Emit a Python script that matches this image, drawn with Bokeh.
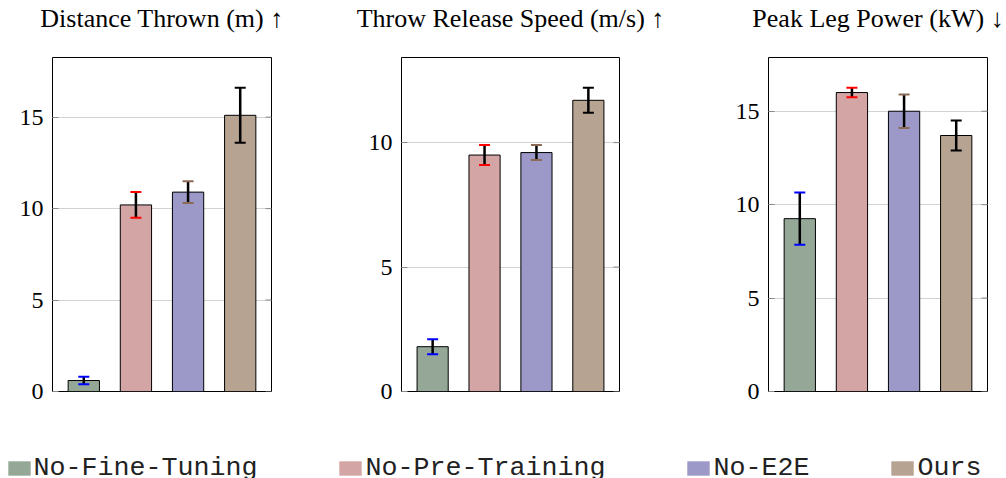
import math
from bokeh.plotting import figure
from bokeh.models import (Range1d, FixedTicker, Whisker, TeeHead,
                          ColumnDataSource, Legend, LegendItem)
from bokeh.layouts import row, column
from bokeh.embed import file_html
from bokeh.resources import INLINE

# ---------------- data ----------------
methods = ["No-Fine-Tuning", "No-Pre-Training", "No-E2E", "Ours"]
bar_colors = ["#95a897", "#d4a5a5", "#9c98c7", "#b6a391"]
cap_colors = ["#0000ff", "#ff0000", "#8b6a55", "#000000"]

titles = ["Distance Thrown (m) \u2191", "Throw Release Speed (m/s) \u2191", "Peak Leg Power (kW) \u2193"]

distance_mean = [0.6, 10.2, 10.9, 15.1]
distance_err = [0.2, 0.7, 0.6, 1.5]
speed_mean = [1.8, 9.5, 9.6, 11.7]
speed_err = [0.3, 0.4, 0.3, 0.5]
power_mean = [9.25, 16.0, 15.0, 13.7]
power_err = [1.4, 0.25, 0.9, 0.8]

yticks_distance = [0, 5, 10, 15]
yticks_speed = [0, 5, 10]
yticks_power = [0, 5, 10, 15]

SERIF = "Liberation Serif"
TITLE_FONT = "Liberation Serif, DejaVu Sans"
FRAME_H = 334          # plot-area height in px
TOP = 57               # height of the title strip above the plot area
BOTTOM = 16
TICK_COLOR = "#8a8a8a"
X0, X1 = -0.6, len(methods) - 0.4


def make_title(text, width, mb_left, mb_right):
    t = figure(width=width, height=TOP, x_range=Range1d(X0, X1), y_range=Range1d(0, 1),
               output_backend="svg", toolbar_location=None, min_border_left=mb_left,
               min_border_right=mb_right, min_border_top=0, min_border_bottom=0,
               x_axis_location=None, y_axis_location=None, title=text)
    t.grid.visible = False
    t.outline_line_color = None
    t.title.text_font = TITLE_FONT
    t.title.text_font_size = "26px"
    t.title.text_font_style = "normal"
    t.title.text_color = "black"
    t.title.align = "center"
    t.title.standoff = 2
    return t


def make_panel(means, errs, ticks, width, mb_left, mb_right):
    xs = list(range(len(methods)))
    ymax = max(m + e for m, e in zip(means, errs)) * 1.1
    p = figure(width=width, height=FRAME_H + BOTTOM, x_range=Range1d(X0, X1),
               y_range=Range1d(0, ymax), output_backend="svg", toolbar_location=None,
               min_border_left=mb_left, min_border_right=mb_right, min_border_top=0,
               min_border_bottom=BOTTOM, x_axis_location=None)

    p.xgrid.visible = False
    p.ygrid.grid_line_color = "#d2d2d2"
    p.ygrid.grid_line_width = 1

    ya = p.yaxis[0]
    ya.ticker = FixedTicker(ticks=ticks)
    ya.axis_line_color = None
    ya.major_tick_in = 6
    ya.major_tick_out = 0
    ya.major_tick_line_color = TICK_COLOR
    ya.minor_tick_line_color = None
    ya.major_label_text_font = SERIF
    ya.major_label_text_font_size = "24px"
    ya.major_label_text_color = "black"
    ya.major_label_standoff = 9

    # inward tick marks on the right side of the frame
    p.ray(x=[X1] * len(ticks), y=ticks, length=6, length_units="screen",
          angle=math.pi, line_color=TICK_COLOR, line_width=1)

    p.outline_line_color = "black"
    p.outline_line_alpha = 1
    p.outline_line_width = 1

    src = ColumnDataSource(dict(x=xs, top=means, color=bar_colors))
    p.vbar(x="x", top="top", width=0.6, fill_color="color", line_color="black",
           line_width=1, source=src)

    for i in xs:
        s = ColumnDataSource(dict(x=[xs[i]], lo=[means[i] - errs[i]], hi=[means[i] + errs[i]]))
        w = Whisker(source=s, base="x", lower="lo", upper="hi", line_color="black",
                    line_width=2.5, level="annotation",
                    upper_head=TeeHead(size=11, line_color=cap_colors[i], line_width=2),
                    lower_head=TeeHead(size=11, line_color=cap_colors[i], line_width=2))
        p.add_layout(w)
    return p


# title strip (plot areas at x = 52-271, 401-619, 768-987)
t1 = make_title(titles[0], 345, 52, 74)
t2 = make_title(titles[1], 379, 56, 105)
t3 = make_title(titles[2], 282, 44, 19)

p1 = make_panel(distance_mean, distance_err, yticks_distance, 357, 52, 86)
p2 = make_panel(speed_mean, speed_err, yticks_speed, 367, 44, 105)
p3 = make_panel(power_mean, power_err, yticks_power, 282, 44, 19)

# ---------------- legend row ----------------
lf = figure(width=1006, height=71, x_range=Range1d(0, 1), y_range=Range1d(0, 1),
            output_backend="svg", toolbar_location=None, min_border=0,
            x_axis_location=None, y_axis_location=None)
lf.grid.visible = False
lf.outline_line_color = None
items = []
for m, c in zip(methods, bar_colors):
    # zero-height proxy bar: only its legend swatch is visible
    r = lf.vbar(x=[0.5], top=[0], bottom=[0], width=0.1, fill_color=c, line_color=None)
    items.append(LegendItem(label=m, renderers=[r]))
leg = Legend(items=items, orientation="horizontal", location=(4.5, -5),
             glyph_width=28, glyph_height=18, label_standoff=1, spacing=79,
             padding=0, margin=0, border_line_color=None, background_fill_alpha=0,
             label_text_font="Liberation Mono", label_text_font_size="26.67px",
             label_text_color="#222222")
lf.add_layout(leg)

layout = column(row(t1, t2, t3), row(p1, p2, p3), lf)

open("out.html", "w").write(file_html(layout, INLINE))
